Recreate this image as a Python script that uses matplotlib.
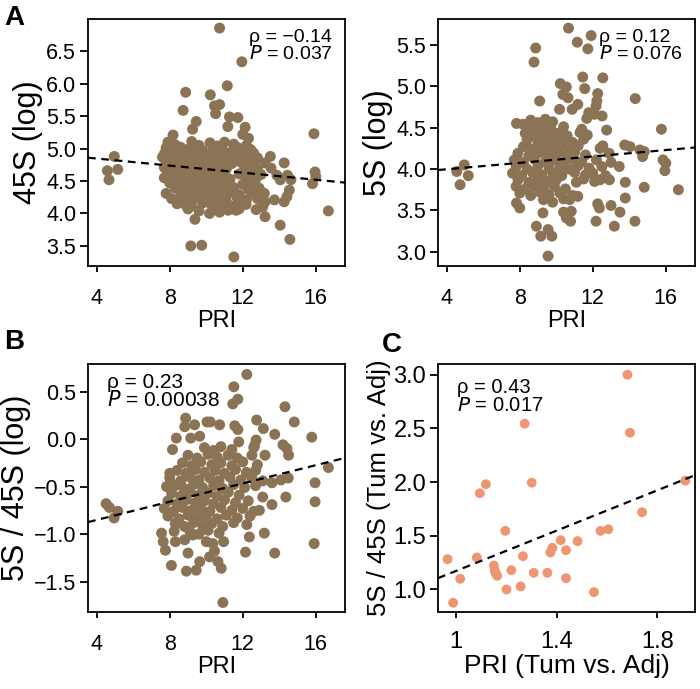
import matplotlib
matplotlib.use("Agg")
import matplotlib.pyplot as plt
import numpy as np

plt.rcParams['font.family'] = ['Liberation Sans', 'DejaVu Sans']
plt.rcParams['axes.unicode_minus'] = True

# ---------------- Panel A (45S) ----------------
a_pts = [
    (10.73, 6.86), (11.95, 6.34), (11.15, 5.97), (8.87, 5.87), (10.22, 5.83), (8.73, 5.59),
    (10.45, 5.66), (10.73, 5.68), (10.51, 5.54), (11.18, 5.34), (11.27, 5.49), (11.73, 5.48),
    (9.45, 5.42), (9.25, 5.30), (8.18, 5.21), (12.13, 5.33), (12.0, 5.22), (12.31, 5.16),
    (15.9, 5.23), (12.45, 4.98), (13.51, 4.88), (14.27, 4.78), (13.55, 4.70), (13.87, 4.59),
    (14.45, 4.59), (14.05, 4.52), (14.64, 4.52), (15.96, 4.64), (16.0, 4.57), (15.82, 4.46),
    (14.55, 4.36), (14.42, 4.26), (14.27, 4.18), (13.73, 4.21), (13.22, 4.18), (16.69, 4.04),
    (13.22, 3.95), (14.05, 3.82), (14.58, 3.60), (9.38, 3.91), (9.15, 3.50), (9.75, 3.51),
    (11.51, 3.33), (4.58, 4.66), (4.67, 4.52), (4.96, 4.88), (5.15, 4.68), (8.91, 4.12),
    (10.18, 4.00), (10.73, 4.02), (11.64, 4.05), (12.18, 4.14), (12.73, 4.06), (13.09, 4.10),
    (13.18, 4.31), (12.91, 4.23),
    (7.9, 5.10), (8.3, 5.06), (9.2, 5.11), (9.6, 5.05), (10.2, 5.09), (10.6, 5.04), (11.0, 5.10), (11.5, 5.07), (12.2, 5.05),
    (7.8, 5.01), (8.1, 4.98), (8.6, 5.02), (9.0, 4.99), (9.4, 5.03), (9.8, 4.97), (10.4, 5.01), (10.9, 4.98), (11.7, 5.02), (12.4, 4.99),
    (7.7, 4.92), (8.2, 4.95), (8.7, 4.91), (9.3, 4.94), (9.9, 4.90), (10.3, 4.95), (10.7, 4.92), (11.3, 4.94), (12.0, 4.91), (12.6, 4.93),
    (7.6, 4.87), (8.0, 4.84), (8.5, 4.88), (9.1, 4.85), (9.6, 4.87), (10.1, 4.83), (10.5, 4.88), (11.0, 4.85), (11.6, 4.87), (12.3, 4.84), (12.8, 4.86),
    (7.8, 4.79), (8.3, 4.76), (8.8, 4.80), (9.4, 4.77), (9.9, 4.79), (10.4, 4.75), (10.8, 4.80), (11.4, 4.77), (11.9, 4.79), (12.6, 4.76), (13.2, 4.78),
    (7.7, 4.71), (8.1, 4.68), (8.6, 4.72), (9.2, 4.69), (9.7, 4.71), (10.2, 4.67), (10.6, 4.72), (11.1, 4.69), (12.1, 4.71), (12.8, 4.68),
    (7.9, 4.63), (8.4, 4.60), (8.9, 4.64), (9.5, 4.61), (10.0, 4.63), (10.5, 4.59), (11.0, 4.64), (11.8, 4.61), (12.4, 4.63), (13.0, 4.60),
    (7.7, 4.55), (8.2, 4.52), (8.7, 4.56), (9.3, 4.53), (9.8, 4.55), (10.3, 4.51), (10.8, 4.56), (11.3, 4.53), (12.2, 4.55), (12.7, 4.52),
    (8.0, 4.47), (8.5, 4.44), (9.0, 4.48), (9.5, 4.45), (10.1, 4.47), (10.6, 4.43), (11.1, 4.48), (12.0, 4.45), (12.5, 4.47),
    (8.3, 4.39), (8.8, 4.36), (9.3, 4.40), (9.9, 4.37), (10.4, 4.39), (11.0, 4.35), (11.5, 4.40), (12.3, 4.37), (12.9, 4.39),
    (7.8, 4.31), (8.6, 4.28), (9.1, 4.32), (9.6, 4.29), (10.2, 4.31), (10.7, 4.27), (11.3, 4.32), (11.8, 4.29), (12.6, 4.31),
    (8.1, 4.23), (8.9, 4.20), (9.4, 4.24), (10.0, 4.21), (10.5, 4.23), (11.1, 4.19), (11.7, 4.24), (12.2, 4.21), (12.8, 4.23),
    (8.4, 4.15), (9.2, 4.12), (9.8, 4.16), (10.3, 4.13), (10.9, 4.15), (11.5, 4.11), (12.0, 4.16),
    (9.0, 4.07), (9.6, 4.04), (10.6, 4.08), (11.2, 4.05), (11.8, 4.07),
]
a_fit = (-0.0273, 4.957)  # slope, intercept

# ---------------- Panel A right (5S) ----------------
s5_pts = [
    (10.67, 5.70), (11.15, 5.53), (11.91, 5.61), (11.73, 5.45), (8.87, 5.46), (8.78, 5.29),
    (11.45, 5.11), (12.55, 5.10), (10.22, 5.03), (10.55, 4.99), (11.56, 4.97), (9.09, 4.82),
    (10.36, 4.90), (10.64, 4.86), (12.27, 4.91), (12.22, 4.82), (12.18, 4.76), (11.18, 4.78),
    (10.87, 4.72), (10.18, 4.72), (11.78, 4.68), (12.51, 4.64), (12.09, 4.66), (11.67, 4.61),
    (14.33, 4.85), (15.76, 4.48), (12.76, 4.47), (7.82, 4.55), (8.18, 4.54), (12.55, 4.28),
    (13.75, 4.29), (14.04, 4.27), (14.58, 4.23), (14.82, 4.21), (14.73, 4.15), (15.85, 4.11),
    (16.0, 4.07), (15.95, 3.98), (13.45, 4.03), (12.91, 3.87), (13.78, 3.84), (14.82, 3.78),
    (16.69, 3.75), (13.78, 3.65), (12.27, 3.58), (12.36, 3.53), (13.0, 3.56), (13.49, 3.48),
    (12.18, 3.37), (13.18, 3.31), (14.31, 3.37), (10.4, 3.48), (10.82, 3.49), (10.55, 3.41),
    (10.78, 3.37), (9.27, 3.47), (8.91, 3.31), (9.15, 3.19), (9.55, 3.27), (9.76, 3.19),
    (9.55, 2.95), (7.82, 3.59), (8.0, 3.53), (4.55, 3.97), (4.73, 3.81), (4.96, 4.05),
    (5.18, 3.92), (11.18, 3.67), (10.73, 3.63),
    (8.6, 4.59), (9.0, 4.56), (9.4, 4.60), (9.8, 4.57),
    (8.5, 4.51), (8.9, 4.48), (9.3, 4.52), (9.7, 4.49), (10.4, 4.51), (11.4, 4.48),
    (8.3, 4.43), (8.8, 4.40), (9.2, 4.44), (9.6, 4.41), (10.1, 4.43), (10.6, 4.40), (11.3, 4.44), (11.7, 4.41),
    (8.4, 4.35), (9.0, 4.32), (9.5, 4.36), (10.0, 4.33), (10.5, 4.35), (10.9, 4.32), (11.5, 4.36),
    (8.2, 4.27), (8.7, 4.24), (9.3, 4.28), (9.8, 4.25), (10.3, 4.27), (10.8, 4.24), (11.2, 4.28), (12.4, 4.25),
    (7.9, 4.19), (8.5, 4.16), (9.1, 4.20), (9.6, 4.17), (10.1, 4.19), (10.6, 4.16), (11.0, 4.20), (11.6, 4.17), (12.9, 4.19),
    (7.7, 4.11), (8.2, 4.08), (8.8, 4.12), (9.4, 4.09), (9.9, 4.11), (10.4, 4.08), (10.9, 4.12), (11.4, 4.09), (12.2, 4.11), (13.0, 4.08),
    (7.8, 4.03), (8.4, 4.00), (9.0, 4.04), (9.6, 4.01), (10.2, 4.03), (10.7, 4.00), (11.2, 4.04), (11.8, 4.01), (12.5, 4.03),
    (7.6, 3.95), (8.1, 3.92), (8.7, 3.96), (9.2, 3.93), (9.8, 3.95), (10.3, 3.92), (11.0, 3.96), (11.6, 3.93), (12.0, 3.95), (12.7, 3.92),
    (7.9, 3.87), (8.5, 3.84), (9.0, 3.88), (9.5, 3.85), (10.0, 3.87), (11.1, 3.84), (11.5, 3.88), (12.1, 3.85), (12.4, 3.87),
    (7.8, 3.79), (8.3, 3.76), (8.8, 3.80), (9.3, 3.77), (9.9, 3.79), (10.5, 3.76),
    (8.0, 3.71), (8.6, 3.68), (9.1, 3.72), (9.6, 3.69), (10.2, 3.71), (10.9, 3.68),
    (9.3, 3.63), (9.8, 3.60), (10.4, 3.64),
]
s5_fit = (0.0193, 3.92)

# ---------------- Panel B (5S / 45S) ----------------
b_pts = [
    (12.22, 0.68), (11.51, 0.55), (11.73, 0.42), (11.45, 0.37), (14.31, 0.34), (8.87, 0.22),
    (9.36, 0.15), (8.82, 0.13), (10.04, 0.18), (10.22, 0.18), (10.73, 0.15), (12.76, 0.20),
    (13.13, 0.11), (14.82, 0.18), (11.56, 0.14), (11.73, 0.10), (8.36, 0.01), (9.15, 0.01),
    (9.64, 0.03), (13.75, 0.05), (15.78, 0.02), (12.73, -0.01), (12.64, -0.07), (14.2, -0.06),
    (14.42, -0.10), (14.51, -0.17), (11.78, -0.03), (8.15, -0.11), (13.22, -0.17), (16.69, -0.30),
    (15.96, -0.46), (15.96, -0.66), (15.91, -1.10), (14.36, -0.61), (14.49, -0.41), (14.09, -0.43),
    (13.60, -0.46), (13.60, -0.69), (13.18, -0.99), (13.75, -1.20), (12.15, -1.19), (12.36, -1.03),
    (12.22, -0.90), (12.91, -0.75), (13.09, -0.61), (4.51, -0.68), (4.69, -0.72), (4.95, -0.83),
    (5.15, -0.76), (7.55, -0.99), (7.64, -1.08), (7.76, -1.17), (8.09, -1.33), (8.24, -0.97),
    (8.31, -1.08), (8.91, -1.39), (9.0, -1.20), (8.82, -1.06), (9.27, -1.01), (9.45, -1.38),
    (9.64, -1.29), (10.0, -1.08), (10.18, -1.24), (10.45, -1.18), (10.64, -1.29), (10.82, -1.36),
    (10.36, -1.10), (10.91, -1.72), (10.95, -1.08), (7.82, -0.50), (8.0, -0.36),
    (9.9, -0.09), (10.4, -0.12), (10.8, -0.08), (11.4, -0.11), (12.6, -0.09),
    (9.0, -0.17), (9.5, -0.20), (10.1, -0.16), (10.6, -0.19), (11.2, -0.17), (11.7, -0.20), (12.5, -0.17),
    (8.7, -0.25), (9.2, -0.28), (9.7, -0.24), (10.3, -0.27), (10.8, -0.25), (11.4, -0.28), (12.0, -0.24), (12.8, -0.27),
    (8.4, -0.33), (8.9, -0.36), (9.4, -0.32), (9.9, -0.35), (10.5, -0.33), (11.0, -0.36), (11.6, -0.32), (12.2, -0.35), (12.7, -0.33),
    (8.0, -0.41), (8.6, -0.44), (9.1, -0.40), (9.6, -0.43), (10.2, -0.41), (10.7, -0.44), (11.3, -0.40), (11.9, -0.43), (12.5, -0.41), (13.1, -0.44),
    (8.3, -0.49), (8.8, -0.52), (9.3, -0.48), (9.8, -0.51), (10.4, -0.49), (10.9, -0.52), (11.5, -0.48), (12.1, -0.51), (12.7, -0.49),
    (8.1, -0.57), (8.6, -0.60), (9.1, -0.56), (9.6, -0.59), (10.1, -0.57), (10.6, -0.60), (11.2, -0.56), (11.8, -0.59),
    (7.9, -0.65), (8.4, -0.68), (8.9, -0.64), (9.4, -0.67), (9.9, -0.65), (10.4, -0.68), (11.0, -0.64), (11.6, -0.67), (12.3, -0.65),
    (7.7, -0.73), (8.2, -0.76), (8.7, -0.72), (9.2, -0.75), (9.7, -0.73), (10.2, -0.76), (10.8, -0.72), (11.4, -0.75), (12.0, -0.73), (12.6, -0.76),
    (7.9, -0.81), (8.5, -0.84), (9.0, -0.80), (9.5, -0.83), (10.0, -0.81), (10.6, -0.84), (11.1, -0.80), (11.7, -0.83), (12.4, -0.81),
    (8.3, -0.89), (8.8, -0.92), (9.3, -0.88), (9.8, -0.91), (10.3, -0.89), (10.9, -0.92), (11.5, -0.88),
    (9.1, -0.97), (9.6, -1.00), (10.1, -0.96), (10.7, -0.99),
]
b_fit = (0.048, -1.043)

# ---------------- Panel C (Tum vs. Adj) ----------------
c_x = [0.967, 0.989, 1.017, 1.083, 1.095, 1.119, 1.151, 1.154, 1.158, 1.164, 1.196, 1.201,
       1.220, 1.257, 1.266, 1.273, 1.301, 1.309, 1.363, 1.375, 1.383, 1.416, 1.437, 1.437,
       1.483, 1.548, 1.574, 1.605, 1.681, 1.691, 1.739, 1.911]
c_y = [1.282, 0.876, 1.099, 1.298, 1.896, 1.980, 1.223, 1.180, 1.149, 1.127, 1.546, 1.000,
       1.180, 1.028, 1.310, 2.544, 1.995, 1.155, 1.155, 1.344, 1.388, 1.459, 1.366, 1.105,
       1.450, 0.975, 1.546, 1.561, 3.000, 2.460, 1.719, 2.014]
c_fit = (0.94, 0.232)

stats = {
    'A': ('ρ = \u22120.14', '= 0.037'),
    'A2': ('ρ = 0.12', '= 0.076'),
    'B': ('ρ = 0.23', '= 0.00038'),
    'C': ('ρ = 0.43', '= 0.017'),
}

brown = '#8B7355'
salmon = '#EE9572'

fig = plt.figure(figsize=(7.0, 6.89), dpi=100)
W, H = 700, 689


def make_ax(l, t, r, b):
    return fig.add_axes([l / W, 1 - b / H, (r - l) / W, (b - t) / H])


axA = make_ax(88, 19, 345, 266)
axA2 = make_ax(438, 19, 695, 266)
axB = make_ax(88, 364, 345, 612)
axC = make_ax(438, 364, 695, 612)


def style(ax, fs, xpad):
    for sp in ax.spines.values():
        sp.set_linewidth(1.3)
    ax.tick_params(direction='out', length=5.5, width=1.3, labelsize=fs)
    ax.tick_params(axis='x', pad=xpad, length=4.5)
    ax.tick_params(axis='y', pad=3)


def scatter_panel(ax, pts, fit, color, xlim, ylim, yticks, ylabel, xlabel, xticks):
    xs = [p[0] for p in pts]
    ys = [p[1] for p in pts]
    ax.scatter(xs, ys, s=62, color=color, edgecolors='none', zorder=2)
    ax.axline((0, fit[1]), slope=fit[0], color='black', lw=1.6, dashes=(3.5, 2.5), zorder=3)
    ax.set_xlim(*xlim)
    ax.set_ylim(*ylim)
    ax.set_xticks(xticks)
    ax.set_yticks(yticks)
    ax.set_yticklabels(['%.1f' % v if v >= 0 else '\u2212%.1f' % abs(v) for v in yticks])
    ax.set_ylabel(ylabel, fontsize=22, labelpad=2)
    ax.set_xlabel(xlabel, fontsize=17, labelpad=1)
    style(ax, 15.5, 11)


def annotate(ax, key, x, y1, y2, fs):
    l1, l2 = stats[key]
    ax.text(x, y1, l1, transform=ax.transAxes, fontsize=fs, ha='left', va='center', zorder=4)
    ax.text(x, y2, r'$\it{P}$ ' + l2, transform=ax.transAxes, fontsize=fs, ha='left', va='center', zorder=4)


prix = [4, 8, 12, 16]
scatter_panel(axA, a_pts, a_fit, brown, (3.52, 17.6), (3.19, 7.0),
              [3.5, 4.0, 4.5, 5.0, 5.5, 6.0, 6.5], '45S (log)', 'PRI', prix)
scatter_panel(axA2, s5_pts, s5_fit, brown, (3.52, 17.6), (2.83, 5.81),
              [3.0, 3.5, 4.0, 4.5, 5.0, 5.5], '5S (log)', 'PRI', prix)
scatter_panel(axB, b_pts, b_fit, brown, (3.52, 17.6), (-1.82, 0.79),
              [-1.5, -1.0, -0.5, 0.0, 0.5], '5S / 45S (log)', 'PRI', prix)

axC.scatter(c_x, c_y, s=50, color=salmon, edgecolors='none', zorder=2)
axC.axline((0, c_fit[1]), slope=c_fit[0], color='black', lw=1.6, dashes=(3.5, 2.5), zorder=3)
axC.set_xlim(0.929, 1.949)
axC.set_ylim(0.79, 3.10)
axC.set_xticks([1.0, 1.4, 1.8])
axC.set_xticklabels(['1', '1.4', '1.8'])
axC.set_yticks([1.0, 1.5, 2.0, 2.5, 3.0])
axC.set_yticklabels(['1.0', '1.5', '2.0', '2.5', '3.0'])
axC.set_ylabel('5S / 45S (Tum vs. Adj)', fontsize=18.5, labelpad=2)
axC.set_xlabel('PRI (Tum vs. Adj)', fontsize=19, labelpad=1)
style(axC, 17, 9)

annotate(axA, 'A', 0.626, 0.927, 0.860, 14)
annotate(axA2, 'A2', 0.626, 0.927, 0.860, 14)
annotate(axB, 'B', 0.074, 0.927, 0.853, 15)
annotate(axC, 'C', 0.073, 0.907, 0.833, 14.5)

fig.text(4 / W, 1 - 18 / H, 'A', fontsize=20, fontweight='bold', va='center', ha='left')
fig.text(4 / W, 1 - 342 / H, 'B', fontsize=20, fontweight='bold', va='center', ha='left')
fig.text(382 / W, 1 - 345 / H, 'C', fontsize=20, fontweight='bold', va='center', ha='left')

fig.savefig('out.png', dpi=100)
